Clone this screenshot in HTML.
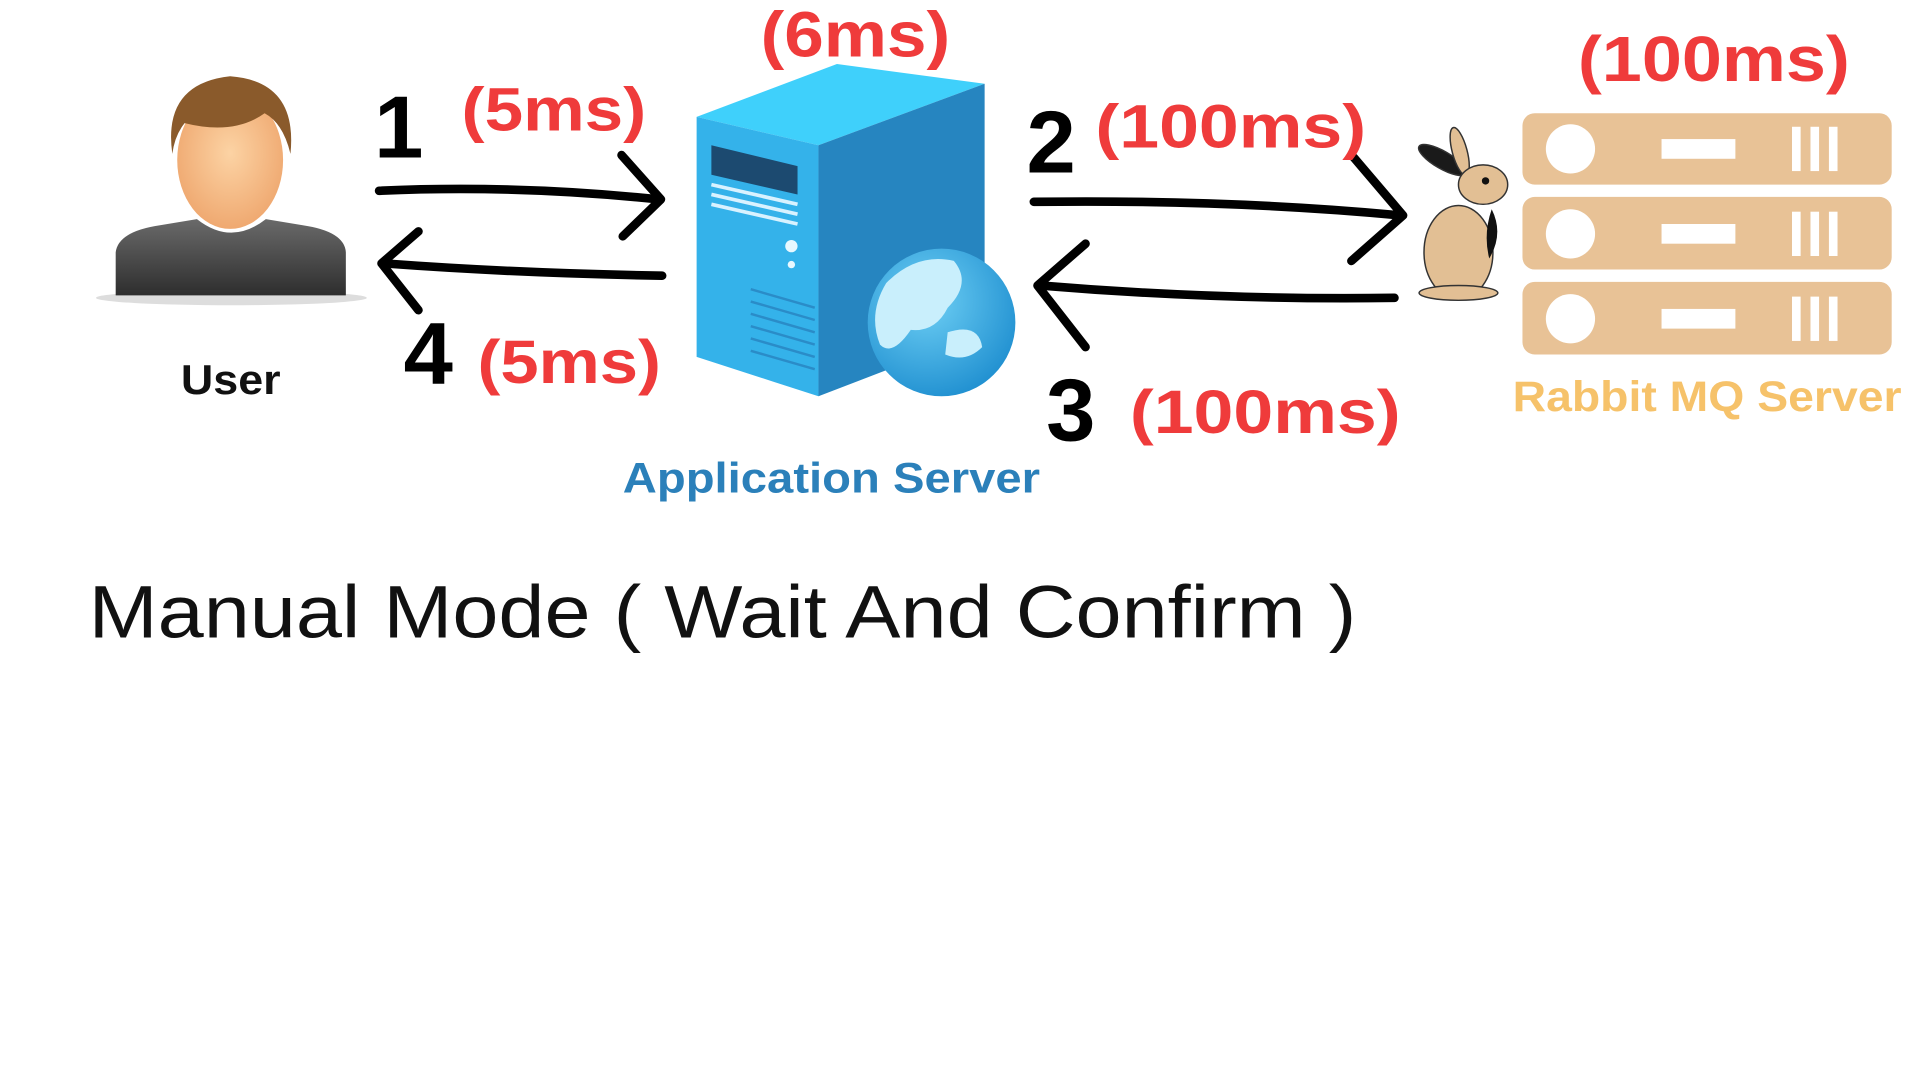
<!DOCTYPE html>
<html><head><meta charset="utf-8"><style>
html,body{margin:0;padding:0;background:#fff;width:1920px;height:1080px;overflow:hidden}
svg{display:block}
text{font-family:"Liberation Sans",sans-serif;font-weight:bold}
</style></head><body>
<svg width="1920" height="1080" viewBox="0 0 1560 877.5" xmlns="http://www.w3.org/2000/svg">
<defs>
<radialGradient id="face" cx="0.5" cy="0.45" r="0.6"><stop offset="0" stop-color="#fcd3a4"/><stop offset="1" stop-color="#eea56c"/></radialGradient>
<linearGradient id="body" x1="0" y1="0" x2="0" y2="1"><stop offset="0" stop-color="#6a6a6a"/><stop offset="1" stop-color="#2e2e2e"/></linearGradient>
<radialGradient id="glb" cx="0.4" cy="0.35" r="0.7"><stop offset="0" stop-color="#6fd0f5"/><stop offset="1" stop-color="#1f8fd0"/></radialGradient>
</defs>
<ellipse cx="188" cy="242" rx="110" ry="6" fill="#ddd"/>
<path d="M94 240 L94 205 Q96 188 130 183 L160 178 Q188 200 216 178 L246 183 Q280 188 281 205 L281 240 Z" fill="url(#body)"/>
<ellipse cx="187" cy="130" rx="43" ry="56" fill="url(#face)"/>
<path d="M140 125 Q132 68 187 62 Q242 66 236 125 Q230 100 215 92 Q190 110 150 100 Q142 110 140 125Z" fill="#8a5a2b"/>
<text x="147" y="320" font-size="34" fill="#111" textLength="81" lengthAdjust="spacingAndGlyphs">User</text>
<g stroke="#000" stroke-width="7" fill="none" stroke-linecap="round" stroke-linejoin="round">
<path d="M308 155 Q420 150 535 162"/>
<path d="M505 126 L537 162 L506 192"/>
<path d="M538 224 Q420 222 312 214"/>
<path d="M340 188 L310 214 L340 252"/>
<path d="M840 164 Q1000 162 1138 175"/>
<path d="M1100 128 L1140 175 L1098 212"/>
<path d="M1133 242 Q990 244 846 232"/>
<path d="M882 198 L843 232 L882 282"/>
</g>
<text x="304" y="128" font-size="72" fill="#000">1</text>
<text x="375" y="106" font-size="50" fill="#ef3b3b" textLength="150" lengthAdjust="spacingAndGlyphs">(5ms)</text>
<text x="328" y="312" font-size="72" fill="#000">4</text>
<text x="388" y="311" font-size="50" fill="#ef3b3b" textLength="149" lengthAdjust="spacingAndGlyphs">(5ms)</text>
<text x="834" y="140" font-size="72" fill="#000">2</text>
<text x="890" y="120" font-size="50" fill="#ef3b3b" textLength="220" lengthAdjust="spacingAndGlyphs">(100ms)</text>
<text x="850" y="358" font-size="72" fill="#000">3</text>
<text x="918" y="352" font-size="50" fill="#ef3b3b" textLength="220" lengthAdjust="spacingAndGlyphs">(100ms)</text>
<text x="618" y="46" font-size="52" fill="#ef3b3b" textLength="154" lengthAdjust="spacingAndGlyphs">(6ms)</text>
<polygon points="566,95 680,52 800,68 665,118" fill="#3fd0fb"/>
<polygon points="566,95 665,118 665,322 566,290" fill="#34b2ea"/>
<polygon points="665,118 800,68 800,270 665,322" fill="#2685c0"/>
<polygon points="578,118 648,135 648,158 578,142" fill="#1c4a70"/>
<g stroke="#d8f2ff" stroke-width="3"><line x1="578" y1="150" x2="648" y2="166"/><line x1="578" y1="158" x2="648" y2="174"/><line x1="578" y1="166" x2="648" y2="182"/></g>
<circle cx="643" cy="200" r="5" fill="#e8f8ff"/><circle cx="643" cy="215" r="3" fill="#e8f8ff"/>
<g stroke="#2a8cc8" stroke-width="2"><line x1="610" y1="235" x2="662" y2="250"/><line x1="610" y1="245" x2="662" y2="260"/><line x1="610" y1="255" x2="662" y2="270"/><line x1="610" y1="265" x2="662" y2="280"/><line x1="610" y1="275" x2="662" y2="290"/><line x1="610" y1="285" x2="662" y2="300"/></g>
<circle cx="765" cy="262" r="60" fill="url(#glb)"/>
<path d="M720 230 Q745 205 775 212 Q790 230 770 250 Q760 270 740 268 Q725 290 715 280 Q705 255 720 230Z" fill="#c9effc"/>
<path d="M770 270 Q795 262 798 282 Q785 295 768 288Z" fill="#c9effc"/>
<text x="506" y="400" font-size="35" fill="#2b80ba" textLength="339" lengthAdjust="spacingAndGlyphs">Application Server</text>
<g stroke="#333" stroke-width="1.2">
<ellipse cx="1172" cy="130" rx="22" ry="7" transform="rotate(30 1172 130)" fill="#1a1a1a"/>
<ellipse cx="1186" cy="123" rx="6" ry="20" transform="rotate(-15 1186 123)" fill="#e2bf94"/>
<ellipse cx="1205" cy="150" rx="20" ry="16" fill="#e2bf94"/>
<ellipse cx="1185" cy="205" rx="28" ry="38" fill="#e2bf94"/>
<ellipse cx="1185" cy="238" rx="32" ry="6" fill="#e2bf94"/>
</g>
<path d="M1212 170 Q1222 190 1210 210 Q1205 190 1212 170Z" fill="#111"/>
<circle cx="1207" cy="147" r="3" fill="#111"/>
<g fill="#e8c296">
<rect x="1237" y="92" width="300" height="58" rx="10"/>
<rect x="1237" y="160" width="300" height="59" rx="10"/>
<rect x="1237" y="229" width="300" height="59" rx="10"/>
</g>
<g fill="#fff">
<circle cx="1276" cy="121" r="20"/><circle cx="1276" cy="190" r="20"/><circle cx="1276" cy="259" r="20"/>
<rect x="1350" y="113" width="60" height="16"/><rect x="1350" y="182" width="60" height="16"/><rect x="1350" y="251" width="60" height="16"/>
<rect x="1456" y="103" width="7" height="36"/><rect x="1471" y="103" width="7" height="36"/><rect x="1486" y="103" width="7" height="36"/>
<rect x="1456" y="172" width="7" height="36"/><rect x="1471" y="172" width="7" height="36"/><rect x="1486" y="172" width="7" height="36"/>
<rect x="1456" y="241" width="7" height="36"/><rect x="1471" y="241" width="7" height="36"/><rect x="1486" y="241" width="7" height="36"/>
</g>
<text x="1282" y="66" font-size="52" fill="#ef3b3b" textLength="221" lengthAdjust="spacingAndGlyphs">(100ms)</text>
<text x="1229" y="334" font-size="35" fill="#f6c26a" textLength="316" lengthAdjust="spacingAndGlyphs">Rabbit MQ Server</text>
<text x="72" y="518" font-size="60" style="font-weight:normal" fill="#111" textLength="1030" lengthAdjust="spacingAndGlyphs">Manual Mode ( Wait And Confirm )</text>
</svg>
</body></html>
